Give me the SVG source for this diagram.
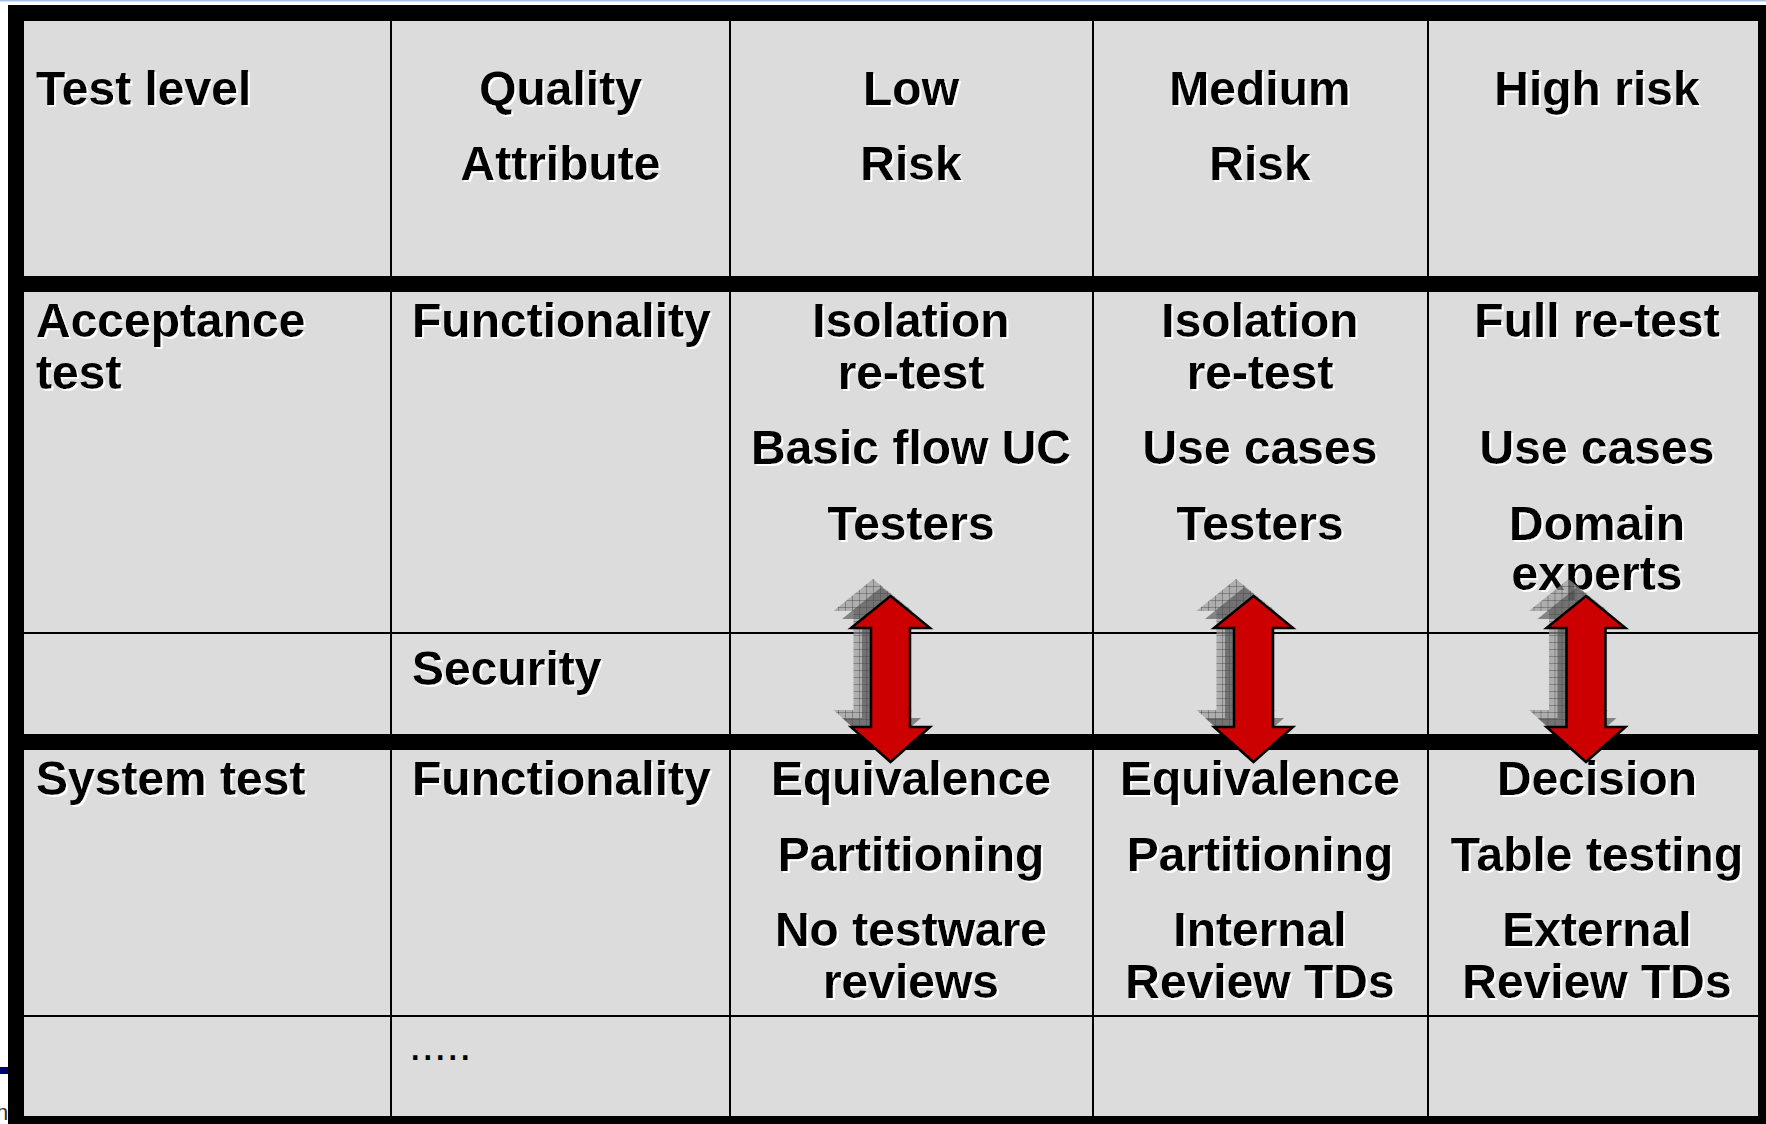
<svg xmlns="http://www.w3.org/2000/svg" width="1766" height="1124" viewBox="0 0 1766 1124">
  <style>
    .cell { fill: #dcdcdc; }
    .t { font-family: "Liberation Sans", Arial, sans-serif; font-weight: bold; font-size: 48px; fill: #000; }
    .c { text-anchor: middle; }
    .dots { font-family: "Liberation Sans", Arial, sans-serif; font-size: 45px; fill: #000; }
  </style>
  <defs>
    <filter id="ts" x="-5%" y="-20%" width="110%" height="140%">
      <feDropShadow dx="2" dy="2" stdDeviation="0" flood-color="#ffffff" flood-opacity="1"/>
    </filter>
    <path id="arrow" d="M0,0 L39.5,32 L19.5,32 L19.5,131 L39.5,131 L0,166 L-39.5,131 L-19.5,131 L-19.5,32 L-39.5,32 Z"/>
    <pattern id="grid" width="7" height="7" patternUnits="userSpaceOnUse">
      <rect width="7" height="7" fill="none"/>
      <path d="M0,0.5 H7 M0.5,0 V7" stroke="#000" stroke-opacity="0.25" stroke-width="1"/>
    </pattern>
  </defs>

  <!-- page decorations -->
  <rect x="0" y="0" width="1766" height="1.5" fill="#a6bde6"/>
  <rect x="0" y="1067" width="8" height="7" fill="#00007a"/>
  <text x="-4" y="1120" font-family="Liberation Sans, Arial, sans-serif" font-size="22" fill="#333">n</text>

  <!-- table frame and grid -->
  <g id="table">
    <rect x="8" y="5" width="1766" height="1130" fill="#000"/>
    <!-- row 1 -->
    <rect class="cell" x="24" y="21" width="366" height="255"/>
    <rect class="cell" x="392" y="21" width="337" height="255"/>
    <rect class="cell" x="731" y="21" width="361" height="255"/>
    <rect class="cell" x="1094" y="21" width="333" height="255"/>
    <rect class="cell" x="1429" y="21" width="329" height="255"/>
    <!-- row 2 -->
    <rect class="cell" x="24" y="292" width="366" height="340"/>
    <rect class="cell" x="392" y="292" width="337" height="340"/>
    <rect class="cell" x="731" y="292" width="361" height="340"/>
    <rect class="cell" x="1094" y="292" width="333" height="340"/>
    <rect class="cell" x="1429" y="292" width="329" height="340"/>
    <!-- row 3 -->
    <rect class="cell" x="24" y="634" width="366" height="100"/>
    <rect class="cell" x="392" y="634" width="337" height="100"/>
    <rect class="cell" x="731" y="634" width="361" height="100"/>
    <rect class="cell" x="1094" y="634" width="333" height="100"/>
    <rect class="cell" x="1429" y="634" width="329" height="100"/>
    <!-- row 4 -->
    <rect class="cell" x="24" y="750" width="366" height="265"/>
    <rect class="cell" x="392" y="750" width="337" height="265"/>
    <rect class="cell" x="731" y="750" width="361" height="265"/>
    <rect class="cell" x="1094" y="750" width="333" height="265"/>
    <rect class="cell" x="1429" y="750" width="329" height="265"/>
    <!-- row 5 -->
    <rect class="cell" x="24" y="1017" width="366" height="99"/>
    <rect class="cell" x="392" y="1017" width="337" height="99"/>
    <rect class="cell" x="731" y="1017" width="361" height="99"/>
    <rect class="cell" x="1094" y="1017" width="333" height="99"/>
    <rect class="cell" x="1429" y="1017" width="329" height="99"/>
  </g>

  <!-- texts -->
  <g id="header" class="t" filter="url(#ts)">
    <text x="36" y="105">Test level</text>
    <text class="c" x="560.5" y="105">Quality</text>
    <text class="c" x="560.5" y="180">Attribute</text>
    <text class="c" x="911" y="105">Low</text>
    <text class="c" x="911" y="180">Risk</text>
    <text class="c" x="1260" y="105">Medium</text>
    <text class="c" x="1260" y="180">Risk</text>
    <text class="c" x="1597" y="105">High risk</text>
  </g>

  <g id="acceptance" class="t" filter="url(#ts)">
    <text x="36" y="337">Acceptance</text>
    <text x="36" y="389">test</text>
    <text x="412" y="337">Functionality</text>
    <text class="c" x="911" y="337">Isolation</text>
    <text class="c" x="911" y="389">re-test</text>
    <text class="c" x="911" y="464">Basic flow UC</text>
    <text class="c" x="911" y="540">Testers</text>
    <text class="c" x="1260" y="337">Isolation</text>
    <text class="c" x="1260" y="389">re-test</text>
    <text class="c" x="1260" y="464">Use cases</text>
    <text class="c" x="1260" y="540">Testers</text>
    <text class="c" x="1597" y="337">Full re-test</text>
    <text class="c" x="1597" y="464">Use cases</text>
    <text class="c" x="1597" y="540">Domain</text>
    <text class="c" x="1597" y="590">experts</text>
  </g>

  <g id="security" class="t" filter="url(#ts)">
    <text x="412" y="685">Security</text>
  </g>

  <g id="system" class="t" filter="url(#ts)">
    <text x="36" y="795">System test</text>
    <text x="412" y="795">Functionality</text>
    <text class="c" x="911" y="795">Equivalence</text>
    <text class="c" x="911" y="871">Partitioning</text>
    <text class="c" x="911" y="946">No testware</text>
    <text class="c" x="911" y="998">reviews</text>
    <text class="c" x="1260" y="795">Equivalence</text>
    <text class="c" x="1260" y="871">Partitioning</text>
    <text class="c" x="1260" y="946">Internal</text>
    <text class="c" x="1260" y="998">Review TDs</text>
    <text class="c" x="1597" y="795">Decision</text>
    <text class="c" x="1597" y="871">Table testing</text>
    <text class="c" x="1597" y="946">External</text>
    <text class="c" x="1597" y="998">Review TDs</text>
  </g>

  <g id="more">
    <text class="dots" x="409" y="1060">.....</text>
  </g>

  <!-- connectors: double-headed arrows -->
  <g id="connectors">
    <g id="arrow-low" transform="translate(890.5,596)">
      <use href="#arrow" x="-17.5" y="-17" fill="#9a9a9a" fill-opacity="0.7"/>
      <use href="#arrow" x="-17.5" y="-17" fill="url(#grid)"/>
      <use href="#arrow" x="-9" y="-9" fill="#4a4a4a" fill-opacity="0.6"/>
      <use href="#arrow" fill="#cc0000" stroke="#000" stroke-width="2.5" stroke-linejoin="miter"/>
    </g>
    <g id="arrow-medium" transform="translate(1253.5,596)">
      <use href="#arrow" x="-17.5" y="-17" fill="#9a9a9a" fill-opacity="0.7"/>
      <use href="#arrow" x="-17.5" y="-17" fill="url(#grid)"/>
      <use href="#arrow" x="-9" y="-9" fill="#4a4a4a" fill-opacity="0.6"/>
      <use href="#arrow" fill="#cc0000" stroke="#000" stroke-width="2.5" stroke-linejoin="miter"/>
    </g>
    <g id="arrow-high" transform="translate(1586,596)">
      <use href="#arrow" x="-17.5" y="-17" fill="#9a9a9a" fill-opacity="0.7"/>
      <use href="#arrow" x="-17.5" y="-17" fill="url(#grid)"/>
      <use href="#arrow" x="-9" y="-9" fill="#4a4a4a" fill-opacity="0.6"/>
      <use href="#arrow" fill="#cc0000" stroke="#000" stroke-width="2.5" stroke-linejoin="miter"/>
    </g>
  </g>
</svg>
